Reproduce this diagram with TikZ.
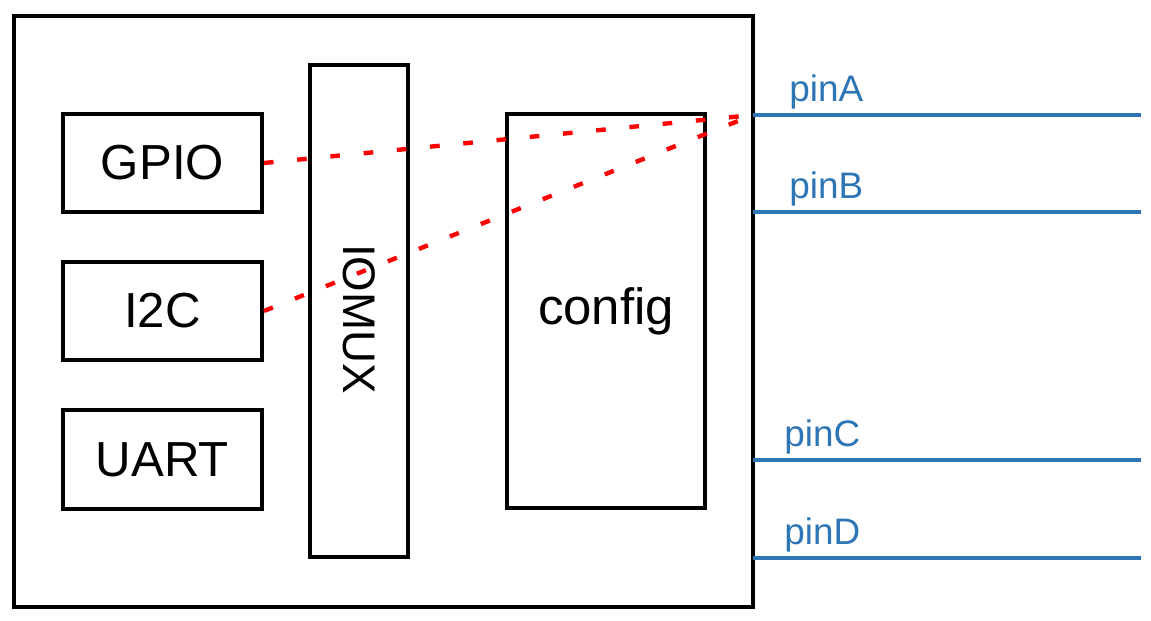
\documentclass[tikz,border=0pt]{standalone}
\usepackage{fontspec}
\setmainfont{Liberation Sans}
\usepackage{xcolor}
\usepackage{tikz}
\definecolor{pinblue}{RGB}{46,117,182}
\tikzset{
  blk/.style={draw, line width=2.2pt, rectangle, inner sep=0pt},
  sig/.style={red, line width=2.5pt, dash pattern=on 5.5pt off 13.5pt},
  pinline/.style={pinblue, line width=2pt},
  pinlbl/.style={pinblue, anchor=base west, inner sep=0pt, font=\fontsize{21}{24}\selectfont}
}
\begin{document}
\begin{tikzpicture}[x=0.02cm,y=-0.02cm]
\useasboundingbox (0,0) rectangle (1151,621);
\fontsize{28}{32}\selectfont
  % chip outline
  \node[blk, minimum width=739*0.02cm, minimum height=591*0.02cm] (chip) at (383.5,311.5) {};
  % peripherals
  \node[blk, minimum width=199*0.02cm, minimum height=98*0.02cm] (gpio) at (162.5,163) {GPIO};
  \node[blk, minimum width=199*0.02cm, minimum height=98*0.02cm] (i2c) at (162.5,311) {I2C};
  \node[blk, minimum width=199*0.02cm, minimum height=99*0.02cm] (uart) at (162.5,459.5) {UART};
  \node[blk, minimum width=98*0.02cm, minimum height=492*0.02cm] (iomux) at (359,311) {};
  \node[rotate=-90, font=\fontsize{26}{28}\selectfont] (iomuxlbl) at (359,319) {IOMUX};
  \node[blk, minimum width=198*0.02cm, minimum height=394*0.02cm, font=\fontsize{29}{32}\selectfont] (config) at (606,311) {config};
  % pins
  \coordinate (pa) at (753,115);  \coordinate (pa2) at (1141,115);
  \coordinate (pb) at (753,212);  \coordinate (pb2) at (1141,212);
  \coordinate (pc) at (753,460);  \coordinate (pc2) at (1141,460);
  \coordinate (pd) at (753,558);  \coordinate (pd2) at (1141,558);
  \draw[pinline] (pa)--(pa2);
  \draw[pinline] (pb)--(pb2);
  \draw[pinline] (pc)--(pc2);
  \draw[pinline] (pd)--(pd2);
  \node[pinlbl] (la) at (789,102) {pinA};
  \node[pinlbl] (lb) at (789,199) {pinB};
  \node[pinlbl] (lc) at (784,446) {pinC};
  \node[pinlbl] (ld) at (784,544) {pinD};
  % muxed signals
  \draw[sig] (gpio.east)--(pa);
  \draw[sig] (i2c.east)--(pa);
\end{tikzpicture}
\end{document}
